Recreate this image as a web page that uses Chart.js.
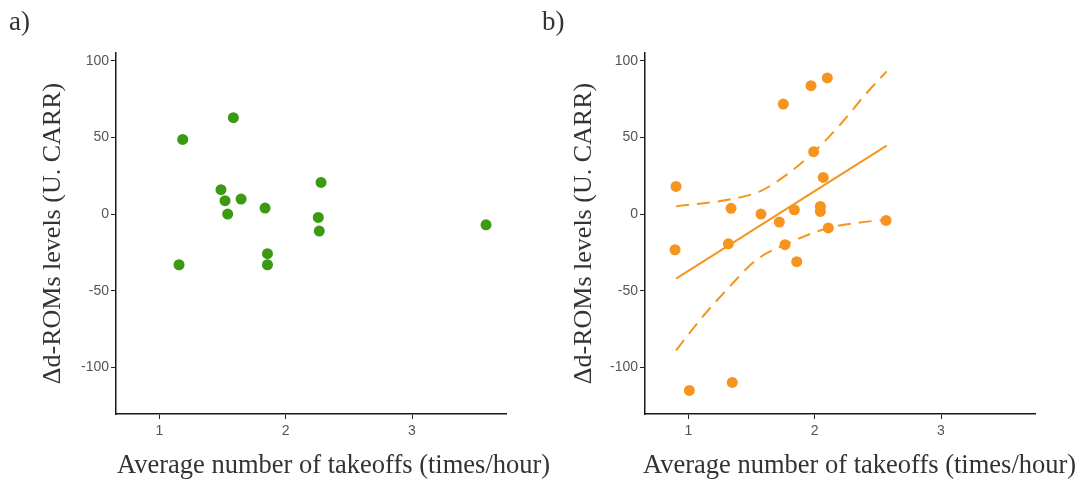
<!DOCTYPE html>
<html>
<head>
    <title>d-ROMs vs takeoffs</title>
    <style>
        body {
            margin: 0;
            background: #fff;
        }
        .panel {
            position: absolute;
            top: 0;
        }
        .tag {
            position: absolute;
            top: 6px;
            font-family: "Liberation Serif", "Times New Roman", serif;
            font-size: 27px;
            color: #333;
        }
        .xtitle {
            position: absolute;
            top: 449px;
            line-height: 30px;
            white-space: nowrap;
            font-family: "Liberation Serif", "Times New Roman", serif;
            font-size: 26.5px;
            color: #333;
        }
    </style>
    <script src="https://cdn.jsdelivr.net/npm/chart.js"></script>
</head>
<body>
    <div class="panel" style="left:0"><canvas id="chartA" width="540" height="483"></canvas></div>
    <div class="panel" style="left:540px"><canvas id="chartB" width="547" height="483"></canvas></div>
    <div class="tag" style="left:9px">a)</div>
    <div class="tag" style="left:542px">b)</div>
    <div class="xtitle" id="xTitleA" style="left:117px"></div>
    <div class="xtitle" id="xTitleB" style="left:643px"></div>
    <script>
        // axis labels and ticks
        const xTitle = 'Average number of takeoffs (times/hour)';
        const yTitle = 'Δd-ROMs levels (U. CARR)';
        const xTicks = [1, 2, 3];
        const yTicks = [-100, -50, 0, 50, 100];

        // panel a) points
        const aX = [1.185, 1.586, 1.488, 1.520, 1.541, 1.647, 1.837, 2.280, 2.258, 2.266, 3.586, 1.156, 1.856, 1.856];
        const aY = [48.7, 62.9, 15.9, 8.7, 0, 9.8, 3.9, 20.6, -2.2, -11.1, -7.0, -33.1, -25.9, -33.1];

        // panel b) points
        const bX = [0.903, 1.338, 1.575, 1.839, 1.720, 1.752, 1.971, 2.100, 1.992, 2.068, 2.045, 2.045, 2.108, 2.565,
                    0.895, 1.317, 1.765, 1.858, 1.008, 1.348];
        const bY = [18.0, 3.7, 0, 2.8, -5.2, 71.8, 83.8, 88.8, 40.7, 23.9, 5.0, 1.7, -9.1, -4.2,
                    -23.3, -19.4, -20.0, -31.1, -115.1, -109.9];

        // panel b) fitted line and confidence band
        const fitX = [0.903, 2.570];
        const fitY = [-42.2, 44.6];
        const upperX = [0.903, 1.343, 1.567, 1.779, 1.990, 2.201, 2.412, 2.570];
        const upperY = [5.0, 9.8, 14.8, 25.7, 40.2, 58.3, 79.0, 93.1];
        const lowerX = [0.903, 1.093, 1.304, 1.541, 1.765, 2.108, 2.358, 2.570];
        const lowerY = [-89.0, -69.0, -49.4, -29.8, -20.0, -9.1, -5.5, -3.7];

        const green = '#3b9a12';
        const orange = '#f5951f';

        // x titles are wider than the plot, so chart.js would squeeze them
        document.getElementById('xTitleA').textContent = xTitle;
        document.getElementById('xTitleB').textContent = xTitle;

        function pairs(xs, ys) {
            return xs.map((x, i) => ({ x: x, y: ys[i] }));
        }

        const tickFont = { family: '"Liberation Sans", Arial, sans-serif', size: 14 };
        const yTitleFont = { family: '"Liberation Serif", "Times New Roman", serif', size: 26 };

        function buildOptions(padLeft, padRight, yWidth) {
            return {
                responsive: false,
                animation: false,
                events: [],
                layout: { padding: { top: 53, left: padLeft, right: padRight, bottom: 6 } },
                plugins: { legend: { display: false }, tooltip: { enabled: false } },
                scales: {
                    x: {
                        type: 'linear',
                        min: 0.657,
                        max: 3.744,
                        afterBuildTicks: s => { s.ticks = xTicks.map(v => ({ value: v })); },
                        afterFit: s => { s.height = 63; },
                        grid: { drawOnChartArea: false, tickLength: 5, color: '#222' },
                        border: { color: '#1a1a1a', width: 1.5 },
                        ticks: { font: tickFont, color: '#555', padding: 4, autoSkip: false, maxRotation: 0 }
                    },
                    y: {
                        type: 'linear',
                        min: -130.5,
                        max: 105.1,
                        afterBuildTicks: s => { s.ticks = yTicks.map(v => ({ value: v })); },
                        afterFit: s => { s.width = yWidth; },
                        grid: { drawOnChartArea: false, tickLength: 5, color: '#222' },
                        border: { color: '#1a1a1a', width: 1.5 },
                        ticks: { font: tickFont, color: '#555', padding: 2, autoSkip: false },
                        title: { display: true, text: yTitle, font: yTitleFont, color: '#333', padding: 0 }
                    }
                }
            };
        }

        new Chart(document.getElementById('chartA').getContext('2d'), {
            type: 'scatter',
            data: {
                datasets: [{
                    data: pairs(aX, aY),
                    backgroundColor: green,
                    pointRadius: 5.5,
                    borderWidth: 0
                }]
            },
            options: buildOptions(38, 34, 78)
        });

        const bandStyle = {
            showLine: true,
            borderColor: orange,
            borderWidth: 2,
            borderDash: [13, 8],
            pointRadius: 0,
            fill: false,
            cubicInterpolationMode: 'monotone'
        };

        new Chart(document.getElementById('chartB').getContext('2d'), {
            type: 'scatter',
            data: {
                datasets: [
                    { data: pairs(bX, bY), backgroundColor: orange, pointRadius: 5.5, borderWidth: 0 },
                    { data: pairs(fitX, fitY), showLine: true, borderColor: orange, borderWidth: 2, pointRadius: 0 },
                    Object.assign({ data: pairs(upperX, upperY) }, bandStyle),
                    Object.assign({ data: pairs(lowerX, lowerY) }, bandStyle)
                ]
            },
            options: buildOptions(29, 52, 76)
        });
    </script>
</body>
</html>
